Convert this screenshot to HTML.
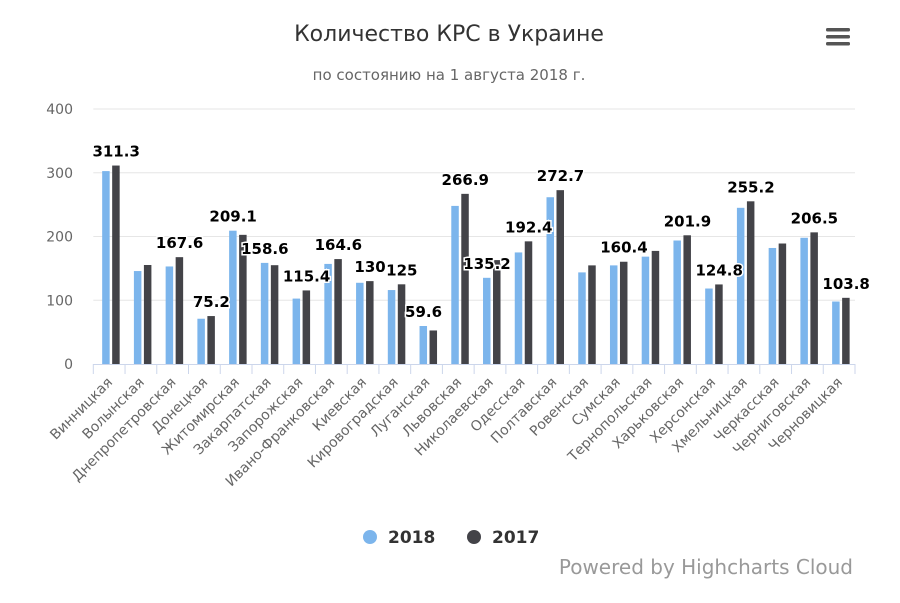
<!DOCTYPE html>
<html><head><meta charset="utf-8"><style>
body{margin:0;background:#fff}
svg text{font-family:"DejaVu Sans","Liberation Sans",sans-serif}
</style></head><body>
<svg id="c" width="900" height="598" xmlns="http://www.w3.org/2000/svg">
<rect width="900" height="598" fill="#fff"/>
<text x="449" y="41" text-anchor="middle" font-size="22" fill="#333">Количество КРС в Украине</text>
<text x="449" y="80" text-anchor="middle" font-size="15" fill="#666">по состоянию на 1 августа 2018 г.</text>
<g fill="#555">
<rect x="826" y="28" width="24" height="3.5" rx="1.5"/><rect x="826" y="35" width="24" height="3.5" rx="1.5"/><rect x="826" y="42" width="24" height="3.5" rx="1.5"/>
</g>
<g id="grid"></g><g id="bars"></g><g id="labels"></g><g id="xaxis"></g>
<g>
<g><circle cx="370" cy="537" r="7" fill="#7cb5ec"/><text x="388" y="543" font-size="17" font-weight="bold" fill="#333">2018</text></g>
<g><circle cx="474" cy="537" r="7" fill="#434348"/><text x="492" y="543" font-size="17" font-weight="bold" fill="#333">2017</text></g>
</g>
<text x="853" y="574" text-anchor="end" font-size="20" fill="#999">Powered by Highcharts Cloud</text>
</svg>
<script>
const categories=["Винницкая","Волынская","Днепропетровская","Донецкая","Житомирская","Закарпатская","Запорожская","Ивано-Франковская","Киевская","Кировоградская","Луганская","Львовская","Николаевская","Одесская","Полтавская","Ровенская","Сумская","Тернопольская","Харьковская","Херсонская","Хмельницкая","Черкасская","Черниговская","Черновицкая"];
const values2018=[302.6,145.8,153,71,209.1,158.6,102.6,157,127.4,116,59.6,248,135.2,175,261.6,143.7,154.7,168.4,193.7,118.4,245,182,198,98];
const values2017=[311.3,155.3,167.6,75.2,202.6,155,115.4,164.6,130,125,52.6,266.9,163,192.4,272.7,154.7,160.4,177.4,201.9,124.8,255.2,189,206.5,103.8];
const labelSeries=[1,-1,1,1,0,0,1,1,1,1,0,1,0,1,1,-1,1,-1,1,1,1,-1,1,1];
const yTicks=[0,100,200,300,400];
const NS="http://www.w3.org/2000/svg";
const X0=93.3,X1=855,Y0=364,Y1=109,YMAX=400;
const cw=(X1-X0)/categories.length;
const y=v=>Y0-(v/YMAX)*(Y0-Y1);
const xc=i=>X0+cw*(i+0.5);
function mk(t,a,p){const e=document.createElementNS(NS,t);for(const k in a)e.setAttribute(k,a[k]);p.appendChild(e);return e;}
const grid=document.getElementById('grid');
yTicks.forEach(v=>{
 if(v>0){const l=mk('line',{x1:X0,x2:X1,y1:y(v),y2:y(v),stroke:'#e6e6e6'},grid);
 
 }
 const t=mk('text',{x:73,y:y(v)+5,'text-anchor':'end','font-size':14,fill:'#666'},grid);
 t.textContent=v;
 
 
});
const bars=document.getElementById('bars'),labs=document.getElementById('labels'),xa=document.getElementById('xaxis');
const ax=mk('line',{x1:X0,x2:X1,y1:Y0+0.5,y2:Y0+0.5,stroke:'#ccd6eb'},xa);


categories.forEach((c,i)=>{
 const cx=xc(i);
 const b1=mk('rect',{x:cx-7,y:y(values2018[i]),width:7.5,height:Y0-y(values2018[i]),fill:'#7cb5ec'},bars);
 
 
 const b2=mk('rect',{x:cx+3,y:y(values2017[i]),width:7.5,height:Y0-y(values2017[i]),fill:'#434348'},bars);
 
 
 const s=labelSeries[i];
 if(s>=0){const v=s===0?values2018[i]:values2017[i];
  const lx=s===0?cx-3:cx+7;
  const t=mk('text',{x:lx,y:y(v)-9,'text-anchor':'middle','font-size':15,'font-weight':'bold',fill:'#000',stroke:'#fff','stroke-width':3,'paint-order':'stroke'},labs);
  t.textContent=v;
  
  }
 const tk=mk('line',{x1:X0+cw*i,x2:X0+cw*i,y1:Y0,y2:Y0+10,stroke:'#ccd6eb'},xa);
 
 
 const t=mk('text',{x:cx+4,y:383,'text-anchor':'end','font-size':14,fill:'#666',transform:`rotate(-45 ${cx+4} 383)`},xa);
 t.textContent=c;
 
 
});
const tk=mk('line',{x1:X1,x2:X1,y1:Y0,y2:Y0+10,stroke:'#ccd6eb'},xa);


</script>
</body></html>
